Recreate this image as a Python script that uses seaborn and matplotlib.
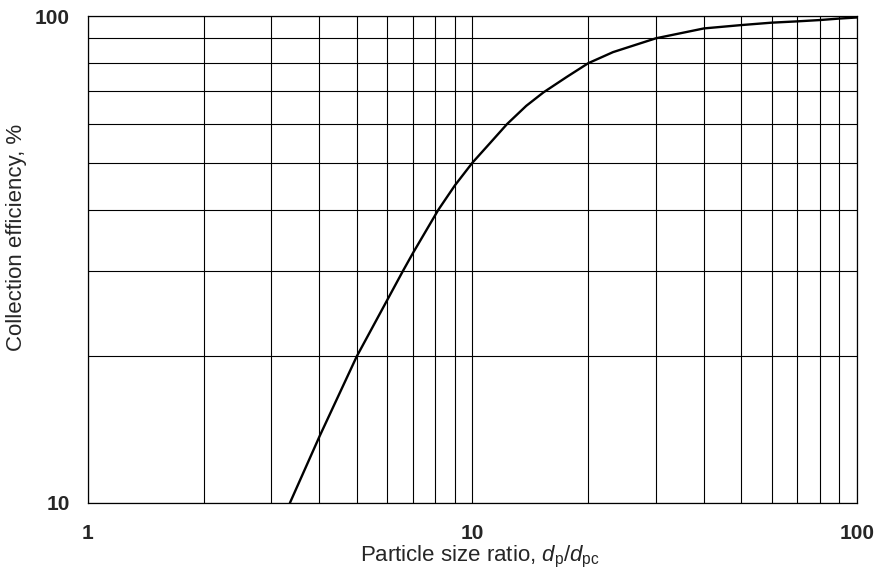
import matplotlib
matplotlib.use("Agg")
import matplotlib.pyplot as plt
import matplotlib.ticker as mticker
import numpy as np
import pandas as pd
import seaborn as sns

# Particle size ratio d_p/d_pc and the corresponding collection efficiency (%)
size_ratio = [3.35, 4.0, 5.0, 6.0, 6.6, 7.0, 8.15, 9.0, 10.0, 11.1, 12.3,
              13.8, 15.3, 17.6, 20.0, 23.2, 30.0, 40.0, 50.0, 60.0, 70.0,
              80.0, 90.0, 100.0]
efficiency = [10.0, 13.7, 20.0, 26.1, 30.0, 32.6, 40.0, 44.9, 50.0, 54.8, 60.0,
              65.4, 69.7, 75.0, 80.0, 84.3, 90.0, 94.3, 95.8, 96.9, 97.5,
              98.1, 98.8, 99.3]

x_ticks = [1, 10, 100]
y_ticks = [10, 100]

sns.set_style("white")
plt.rcParams["font.family"] = ["Liberation Sans", "DejaVu Sans"]
plt.rcParams["mathtext.fontset"] = "custom"
plt.rcParams["mathtext.rm"] = "Liberation Sans"
plt.rcParams["mathtext.it"] = "Liberation Sans:italic"

df = pd.DataFrame({"ratio": size_ratio, "eff": efficiency})

fig = plt.figure(figsize=(8.79, 5.86), dpi=100)
ax = fig.add_axes([88 / 879, 83 / 586, 769 / 879, 487 / 586])

ax.set_xscale("log")
ax.set_yscale("log")
ax.set_xlim(1, 100)
ax.set_ylim(10, 100)

sns.lineplot(data=df, x="ratio", y="eff", ax=ax, color="black", linewidth=1.7)

ax.xaxis.set_major_locator(mticker.FixedLocator(x_ticks))
ax.yaxis.set_major_locator(mticker.FixedLocator(y_ticks))
ax.xaxis.set_minor_locator(mticker.LogLocator(base=10, subs=np.arange(2, 10)))
ax.yaxis.set_minor_locator(mticker.LogLocator(base=10, subs=np.arange(2, 10)))
ax.xaxis.set_minor_formatter(mticker.NullFormatter())
ax.yaxis.set_minor_formatter(mticker.NullFormatter())
ax.set_xticklabels([str(v) for v in x_ticks])
ax.set_yticklabels([str(v) for v in y_ticks])

ax.grid(True, which="both", color="black", linewidth=0.8)
ax.tick_params(which="both", length=0)
ax.tick_params(axis="x", pad=15, labelsize=15)
ax.tick_params(axis="y", pad=13, labelsize=15)
for lbl in ax.get_xticklabels() + ax.get_yticklabels():
    lbl.set_fontweight("bold")

for s in ax.spines.values():
    s.set_color("black")
    s.set_linewidth(0.9)

ax.set_xlabel(r"Particle size ratio, $\mathit{d}_\mathrm{p}/\mathit{d}_\mathrm{pc}$",
              fontsize=16)
ax.set_ylabel("Collection efficiency, %", fontsize=16)
ax.xaxis.set_label_coords(0.51, -0.085)
ax.yaxis.set_label_coords(-0.079, 0.545)

fig.savefig("out.png", dpi=100)
